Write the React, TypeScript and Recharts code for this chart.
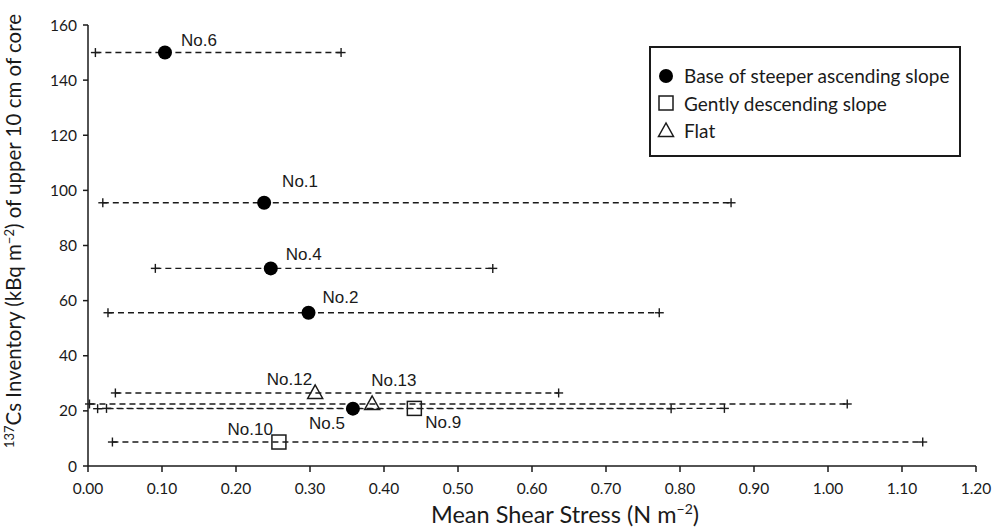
import React from 'react';
import { ScatterChart, Scatter, XAxis, YAxis, Label } from 'recharts';

const sites = ['No.6', 'No.1', 'No.4', 'No.2', 'No.5', 'No.9', 'No.10', 'No.12', 'No.13'];
const siteGroup = [0, 0, 0, 0, 0, 1, 1, 2, 2];
const meanStress = [0.104, 0.238, 0.247, 0.298, 0.358, 0.441, 0.258, 0.307, 0.384];
const minStress = [0.010, 0.020, 0.091, 0.027, 0.013, 0.025, 0.033, 0.037, 0.002];
const maxStress = [0.342, 0.869, 0.547, 0.772, 0.788, 0.860, 1.128, 0.636, 1.026];
const csInventory = [150, 95.5, 71.7, 55.6, 20.8, 20.9, 8.7, 26.5, 22.5];

const groupNames = ['Base of steeper ascending slope', 'Gently descending slope', 'Flat'];
const xTicks = [0, 0.1, 0.2, 0.3, 0.4, 0.5, 0.6, 0.7, 0.8, 0.9, 1.0, 1.1, 1.2];
const yTicks = [0, 20, 40, 60, 80, 100, 120, 140, 160];

// where each site label sits relative to its marker
const labelPos: Record<string, { dx: number; dy: number; anchor: 'start' | 'end' }> = {
  'No.6': { dx: 16, dy: -12, anchor: 'start' },
  'No.1': { dx: 18, dy: -21, anchor: 'start' },
  'No.4': { dx: 15, dy: -14, anchor: 'start' },
  'No.2': { dx: 14, dy: -15, anchor: 'start' },
  'No.5': { dx: -8, dy: 15, anchor: 'end' },
  'No.9': { dx: 11, dy: 14, anchor: 'start' },
  'No.10': { dx: -6, dy: -13, anchor: 'end' },
  'No.12': { dx: -3, dy: -13, anchor: 'end' },
  'No.13': { dx: -1, dy: -23, anchor: 'start' },
};

const INK = '#1a1a1a';
const AXIS_FONT = 'Lato, "Open Sans", sans-serif';
const LABEL_FONT = '"Liberation Sans", Arial, sans-serif';

const groupData = groupNames.map((_, g) =>
  sites
    .map((name, i) => ({ name, x: meanStress[i], y: csInventory[i], g: siteGroup[i] }))
    .filter((d) => d.g === g)
);

const rangeData = sites.map((name, i) => [
  { name, x: minStress[i], y: csInventory[i] },
  { name, x: maxStress[i], y: csInventory[i] },
]);

const PlusEnd = (p: any) => {
  const { cx, cy } = p;
  if (cx == null || cy == null) return null;
  return (
    <g stroke={INK} strokeWidth={1.4}>
      <line x1={cx - 4.5} x2={cx + 4.5} y1={cy} y2={cy} />
      <line x1={cx} x2={cx} y1={cy - 4.5} y2={cy + 4.5} />
    </g>
  );
};

function markerIcon(g: number, cx: number, cy: number) {
  if (g === 0) return <circle cx={cx} cy={cy} r={7} fill="#000" />;
  if (g === 1) return <rect x={cx - 7} y={cy - 7} width={14} height={14} fill="none" stroke={INK} strokeWidth={1.5} />;
  return (
    <polygon
      points={`${cx},${cy - 8} ${cx - 7.5},${cy + 5.5} ${cx + 7.5},${cy + 5.5}`}
      fill="none"
      stroke={INK}
      strokeWidth={1.5}
    />
  );
}

const makeMarker = (g: number) => (p: any) => {
  const { cx, cy } = p;
  if (cx == null || cy == null) return null;
  const name = p.payload?.name ?? p.name;
  const pos = labelPos[name] || { dx: 12, dy: -14, anchor: 'start' };
  return (
    <g>
      {markerIcon(g, cx, cy)}
      <text
        x={cx + pos.dx}
        y={cy + pos.dy}
        textAnchor={pos.anchor}
        dominantBaseline="central"
        fontFamily={LABEL_FONT}
        fontSize={17}
        fill={INK}
      >
        {name}
      </text>
    </g>
  );
};

const LegendBox = () => (
  <div
    style={{
      position: 'absolute',
      left: 649,
      top: 46,
      width: 308,
      height: 93,
      boxSizing: 'content-box',
      paddingTop: 14,
      border: `2px solid ${INK}`,
      fontFamily: AXIS_FONT,
      fontSize: 19,
      color: INK,
      background: '#fff',
    }}
  >
    {groupNames.map((n, g) => (
      <div key={n} style={{ display: 'flex', alignItems: 'center', height: 27.5, whiteSpace: 'nowrap' }}>
        <svg width={33} height={20} style={{ flex: 'none' }}>
          {markerIcon(g, 15, 10)}
        </svg>
        <span>{n}</span>
      </div>
    ))}
  </div>
);

const YTitle = () => (
  <text
    transform="rotate(-90, 21, 231)"
    x={21}
    y={231}
    textAnchor="middle"
    fontFamily={AXIS_FONT}
    fontSize={20.5}
    fill={INK}
  >
    <tspan fontSize={13} dy={-7}>137</tspan>
    <tspan dy={7}>Cs Inventory (kBq m</tspan>
    <tspan fontSize={13} dy={-7}>−2</tspan>
    <tspan dy={7}>) of upper 10 cm of core</tspan>
  </text>
);

const XTitle = () => (
  <text x={565} y={523} textAnchor="middle" fontFamily={AXIS_FONT} fontSize={23.5} fill={INK}>
    <tspan>Mean Shear Stress (N m</tspan>
    <tspan fontSize={14} dy={-9}>−2</tspan>
    <tspan dy={9}>)</tspan>
  </text>
);

export default function App() {
  return (
    <div style={{ width: 1003, height: 529, background: '#fff', position: 'relative' }}>
      <style>{'body{margin:0}'}</style>
      <ScatterChart width={1003} height={529} margin={{ top: 25, right: 27, bottom: 0, left: 28 }}>
        <XAxis
          type="number"
          dataKey="x"
          domain={[0, 1.2]}
          ticks={xTicks}
          tickFormatter={(v: number) => v.toFixed(2)}
          height={63}
          stroke={INK}
          strokeWidth={1.5}
          tickSize={6}
          tickMargin={11}
          tick={{ fill: INK, fontSize: 15.5, fontFamily: AXIS_FONT }}
        >
          <Label content={XTitle} />
        </XAxis>
        <YAxis
          type="number"
          dataKey="y"
          domain={[0, 160]}
          ticks={yTicks}
          width={60}
          stroke={INK}
          strokeWidth={1.5}
          tickSize={5}
          tickMargin={6}
          tick={{ fill: INK, fontSize: 15.5, fontFamily: AXIS_FONT }}
        >
          <Label content={YTitle} />
        </YAxis>
        {rangeData.map((d, i) => (
          <Scatter
            key={`range-${sites[i]}`}
            data={d}
            line={{ stroke: INK, strokeWidth: 1.4, strokeDasharray: '6 4' }}
            shape={PlusEnd}
            legendType="none"
            isAnimationActive={false}
          />
        ))}
        {groupData.map((d, g) => (
          <Scatter
            key={groupNames[g]}
            name={groupNames[g]}
            data={d}
            shape={makeMarker(g)}
            isAnimationActive={false}
          />
        ))}
      </ScatterChart>
      <LegendBox />
    </div>
  );
}
